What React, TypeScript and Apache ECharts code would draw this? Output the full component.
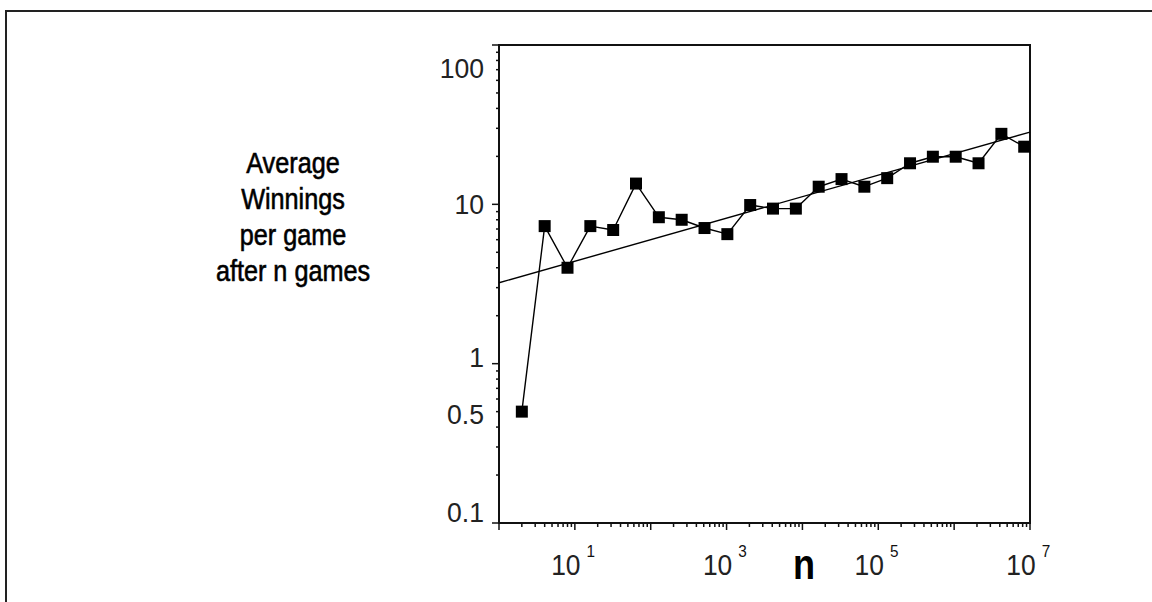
import { useEffect, useRef } from "react";
import * as echarts from "echarts";

// Average winnings per game after n games (n = 2, 4, 8, ... 2^23)
const gamesPlayed = [
  2, 4, 8, 16, 32, 64, 128, 256, 512, 1024, 2048, 4096, 8192, 16384, 32768,
  65536, 131072, 262144, 524288, 1048576, 2097152, 4194304, 8388608,
];
const avgWinnings = [
  0.5, 7.3, 4.0, 7.3, 6.9, 13.5, 8.3, 8.0, 7.1, 6.5, 9.9, 9.4, 9.4, 12.9, 14.4,
  12.9, 14.6, 18.1, 19.9, 19.9, 18.1, 27.7, 23.0,
];

// Straight-line fit on the log-log scale
const fitGames = [1, 1e7];
const fitWinnings = [3.22, 28.4];

const xMin = 1;
const xMax = 1e7;
const yMin = 0.1;
const yMax = 100;

const xLabelValues = [10, 1e3, 1e5, 1e7];
const xLabelExponents = ["1", "3", "5", "7"];
const yLabelValues = [0.1, 0.5, 1, 10, 100];
const yLabelTexts = ["0.1", "0.5", "1", "10", "100"];

const titleLines = ["Average", "Winnings", "per game", "after n games"];
const xName = "n";

// vertical nudges of the y labels relative to their ticks (px)
const yLabelNudge = [-11, 3, -6, 0, 23];

const FONT = '"Liberation Sans", Arial, Helvetica, sans-serif';
const INK = "#111";

const multiples = [1, 2, 3, 4, 5, 6, 7, 8, 9];
function logTicks(min: number, max: number): number[] {
  const out: number[] = [];
  const e0 = Math.round(Math.log10(min));
  const e1 = Math.round(Math.log10(max));
  for (let e = e0; e < e1; e++) {
    for (const m of multiples) out.push(+(m * Math.pow(10, e)).toPrecision(6));
  }
  out.push(max);
  return out;
}
function isDecade(v: number): boolean {
  const l = Math.log10(v);
  return Math.abs(l - Math.round(l)) < 1e-9;
}

const xTicks = logTicks(xMin, xMax);
const yTicks = logTicks(yMin, yMax);

export default function App() {
  const ref = useRef<HTMLDivElement>(null);

  useEffect(() => {
    if (!ref.current) return;
    const chart = echarts.init(ref.current, null, { renderer: "svg" });

    const option: any = {
      animation: false,
      backgroundColor: "#fff",
      grid: {
        left: 499,
        top: 45,
        width: 531,
        height: 478,
        show: true,
        borderColor: INK,
        borderWidth: 2,
        backgroundColor: "transparent",
      },
      xAxis: {
        type: "log",
        logBase: 10,
        min: xMin,
        max: xMax,
        axisLine: { show: true, lineStyle: { color: INK, width: 2 } },
        axisTick: { show: false },
        axisLabel: { show: false },
        splitLine: { show: false },
        minorTick: { show: false },
      },
      yAxis: {
        type: "log",
        logBase: 10,
        min: yMin,
        max: yMax,
        axisLine: { show: true, lineStyle: { color: INK, width: 2 } },
        axisTick: { show: false },
        axisLabel: { show: false },
        splitLine: { show: false },
        minorTick: { show: false },
      },
      graphic: [
        {
          type: "rect",
          silent: true,
          shape: { x: 6, y: 11, width: 1300, height: 800 },
          style: { fill: "none", stroke: "#222", lineWidth: 2 },
        },
        {
          type: "text",
          silent: true,
          x: 293,
          y: 217,
          scaleX: 0.87,
          style: {
            text: titleLines.join("\n"),
            font: `29px ${FONT}`,
            fill: "#000",
            stroke: "#000",
            lineWidth: 0.6,
            align: "center",
            verticalAlign: "middle",
            textAlign: "center",
            textVerticalAlign: "middle",
            lineHeight: 36,
          },
        },
        {
          type: "text",
          silent: true,
          x: 804,
          y: 565,
          scaleX: 0.86,
          style: {
            text: xName,
            font: `bold 42px ${FONT}`,
            fill: "#000",
            align: "center",
            verticalAlign: "middle",
            textAlign: "center",
            textVerticalAlign: "middle",
          },
        },
      ],
      series: [
        {
          name: "fit",
          type: "line",
          data: fitGames.map((n, i) => [n, fitWinnings[i]]),
          symbol: "none",
          silent: true,
          lineStyle: { color: "#000", width: 1.4 },
        },
        {
          name: "winnings",
          type: "line",
          data: gamesPlayed.map((n, i) => [n, avgWinnings[i]]),
          symbol: "rect",
          symbolSize: 12,
          silent: true,
          itemStyle: { color: "#000" },
          lineStyle: { color: "#000", width: 1.4 },
        },
        {
          // x-axis ticks, pointing down
          type: "custom",
          silent: true,
          clip: false,
          data: xTicks.map((v) => [v, yMin]),
          encode: { x: 0, y: 1 },
          renderItem: (_p: any, api: any) => {
            const v = api.value(0);
            const pt = api.coord([v, yMin]);
            const len = isDecade(v) ? 7 : 4;
            return {
              type: "line",
              shape: { x1: pt[0], y1: pt[1], x2: pt[0], y2: pt[1] + len },
              style: { stroke: INK, lineWidth: 1.5 },
            };
          },
        },
        {
          // y-axis ticks, pointing left
          type: "custom",
          silent: true,
          clip: false,
          data: yTicks.map((v) => [xMin, v]),
          encode: { x: 0, y: 1 },
          renderItem: (_p: any, api: any) => {
            const v = api.value(1);
            const pt = api.coord([xMin, v]);
            const len = isDecade(v) ? 7 : 3;
            return {
              type: "line",
              shape: { x1: pt[0], y1: pt[1], x2: pt[0] - len, y2: pt[1] },
              style: { stroke: INK, lineWidth: 1.5 },
            };
          },
        },
        {
          // y-axis labels
          type: "custom",
          silent: true,
          clip: false,
          data: yLabelValues.map((v) => [xMin, v]),
          encode: { x: 0, y: 1 },
          renderItem: (params: any, api: any) => {
            const i = params.dataIndex;
            const pt = api.coord([xMin, api.value(1)]);
            return {
              type: "text",
              x: pt[0] - 15,
              y: pt[1] + yLabelNudge[i],
              scaleX: 0.95,
              style: {
                text: yLabelTexts[i],
                font: `28px ${FONT}`,
                fill: "#222",
                align: "right",
                verticalAlign: "middle",
                textAlign: "right",
                textVerticalAlign: "middle",
              },
            };
          },
        },
        {
          // x-axis labels: 10 with a raised exponent
          type: "custom",
          silent: true,
          clip: false,
          data: xLabelValues.map((v) => [v, yMin]),
          encode: { x: 0, y: 1 },
          renderItem: (params: any, api: any) => {
            const i = params.dataIndex;
            const pt = api.coord([api.value(0), yMin]);
            return {
              type: "group",
              x: pt[0],
              y: pt[1],
              children: [
                {
                  type: "text",
                  x: -9,
                  y: 41,
                  scaleX: 0.88,
                  style: {
                    text: "10",
                    font: `30px ${FONT}`,
                    fill: "#222",
                    align: "center",
                    verticalAlign: "middle",
                    textAlign: "center",
                    textVerticalAlign: "middle",
                  },
                },
                {
                  type: "text",
                  x: 16,
                  y: 28,
                  scaleX: 0.9,
                  style: {
                    text: xLabelExponents[i],
                    font: `17px ${FONT}`,
                    fill: "#111",
                    align: "center",
                    verticalAlign: "middle",
                    textAlign: "center",
                    textVerticalAlign: "middle",
                  },
                },
              ],
            };
          },
        },
      ],
    };

    chart.setOption(option);
    return () => chart.dispose();
  }, []);

  return (
    <div
      ref={ref}
      style={{
        position: "absolute",
        left: 0,
        top: 0,
        width: 1152,
        height: 602,
        background: "#fff",
      }}
    />
  );
}
